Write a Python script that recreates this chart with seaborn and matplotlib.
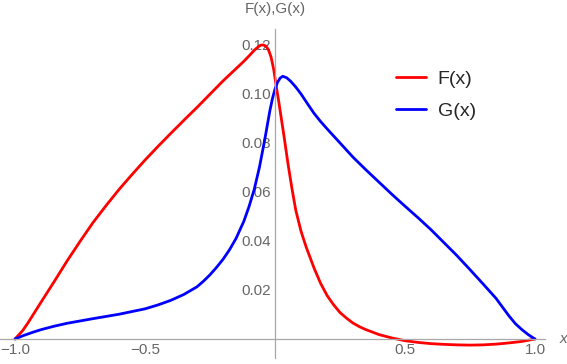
import numpy as np
import pandas as pd
import seaborn as sns
import matplotlib.pyplot as plt
from matplotlib.ticker import FixedLocator

# valores
x_f = [-1.0, -0.97, -0.95, -0.9, -0.85, -0.8, -0.75, -0.7, -0.65, -0.6, -0.55, -0.5,
       -0.45, -0.4, -0.35, -0.3, -0.25, -0.2, -0.15, -0.12, -0.1, -0.08, -0.065,
       -0.055, -0.045, -0.035, -0.025, -0.015, -0.005, 0.005, 0.015, 0.025, 0.035,
       0.05, 0.065, 0.08, 0.1, 0.12, 0.15, 0.175, 0.2, 0.225, 0.25, 0.275, 0.3,
       0.325, 0.35, 0.4, 0.45, 0.5, 0.55, 0.6, 0.65, 0.7, 0.75, 0.8, 0.85, 0.9,
       0.95, 1.0]
f_vals = [0.0, 0.0035, 0.0066, 0.0150, 0.0233, 0.0318, 0.0398, 0.0475, 0.0544,
          0.0610, 0.0671, 0.0730, 0.0786, 0.0840, 0.0893, 0.0945, 0.0999, 0.1053,
          0.1103, 0.1133, 0.1155, 0.1178, 0.1192, 0.1199, 0.1200, 0.1195, 0.1180,
          0.1150, 0.1100, 0.1030, 0.0965, 0.0895, 0.0825, 0.0715, 0.0615, 0.0525,
          0.0440, 0.0375, 0.0290, 0.0228, 0.0178, 0.0140, 0.0108, 0.0085, 0.0065,
          0.0050, 0.0038, 0.0018, 0.0004, -0.0007, -0.0014, -0.0019, -0.0022,
          -0.0024, -0.0025, -0.0024, -0.0021, -0.0016, -0.0010, 0.0]

x_g = [-1.0, -0.97, -0.93, -0.9, -0.85, -0.8, -0.7, -0.6, -0.5, -0.45, -0.4, -0.35,
       -0.3, -0.275, -0.25, -0.225, -0.2, -0.175, -0.15, -0.12, -0.1, -0.08, -0.06,
       -0.05, -0.04, -0.03, -0.02, -0.01, 0.0, 0.01, 0.02, 0.03, 0.045, 0.06, 0.08,
       0.1, 0.125, 0.15, 0.175, 0.2, 0.25, 0.3, 0.35, 0.4, 0.45, 0.5, 0.55, 0.6,
       0.65, 0.7, 0.75, 0.8, 0.85, 0.875, 0.9, 0.925, 0.95, 0.975, 1.0]
g_vals = [0.0, 0.0013, 0.0028, 0.0038, 0.0052, 0.0064, 0.0083, 0.0101, 0.0123,
          0.0139, 0.0158, 0.0182, 0.0213, 0.0236, 0.0262, 0.0292, 0.0325, 0.0364,
          0.0410, 0.0480, 0.0540, 0.0610, 0.0700, 0.0755, 0.0810, 0.0870, 0.0930,
          0.0980, 0.1020, 0.1048, 0.1065, 0.1072, 0.1066, 0.1052, 0.1028, 0.1000,
          0.0960, 0.0921, 0.0888, 0.0858, 0.0800, 0.0742, 0.0690, 0.0640, 0.0590,
          0.0542, 0.0495, 0.0446, 0.0393, 0.0340, 0.0283, 0.0225, 0.0166, 0.0130,
          0.0094, 0.0062, 0.0038, 0.0017, 0.0]

df = pd.concat([
    pd.DataFrame({'x': x_f, 'y': f_vals, 'curva': 'F(x)'}),
    pd.DataFrame({'x': x_g, 'y': g_vals, 'curva': 'G(x)'}),
])

sns.set_style('white')
plt.rcParams['font.family'] = ['Liberation Sans', 'DejaVu Sans']

fig = plt.figure(figsize=(5.67, 3.64), dpi=100)
ax = fig.add_axes([0, 6 / 364, 545 / 567, 329 / 364])

sns.lineplot(data=df, x='x', y='y', hue='curva', sort=False,
             palette={'F(x)': '#ff0000', 'G(x)': '#0000ff'},
             linewidth=2.0, solid_joinstyle='round', ax=ax, legend=True)

ax.set_xlim(-1.0577, 1.0385)
ax.set_ylim(-0.00776, 0.1265)

gray = '#a8a8a8'
for s in ['top', 'right']:
    ax.spines[s].set_visible(False)
for s in ['left', 'bottom']:
    ax.spines[s].set_position('zero')
    ax.spines[s].set_color(gray)
    ax.spines[s].set_linewidth(0.9)

ax.xaxis.set_major_locator(FixedLocator([-1.0, -0.5, 0.5, 1.0]))
ax.set_xticklabels(['\u22121.0', '\u22120.5', '0.5', '1.0'])
ax.xaxis.set_minor_locator(FixedLocator([v / 10 for v in range(-9, 10) if v % 5 != 0]))
ax.yaxis.set_major_locator(FixedLocator([0.02, 0.04, 0.06, 0.08, 0.10, 0.12]))
ax.set_yticklabels(['0.02', '0.04', '0.06', '0.08', '0.10', '0.12'])
ax.yaxis.set_minor_locator(FixedLocator([v * 0.005 for v in range(1, 26) if v % 4 != 0]))

ax.tick_params(which='both', direction='in', color=gray, width=0.8,
               labelsize=11, labelcolor='#666666', pad=3)
ax.tick_params(which='major', length=4.6)
ax.tick_params(which='minor', length=2.6)

ax.set_xlabel('')
ax.set_ylabel('')
ax.text(1.108, 0.0, 'x', style='italic', color='#666666', fontsize=11,
        ha='center', va='center', clip_on=False)
ax.text(0.0, 0.1347, 'F(x),G(x)', color='#666666', fontsize=11,
        ha='center', va='center', clip_on=False)

leg = ax.legend(loc='upper left', bbox_to_anchor=(396 / 545, 1 - 41 / 329),
                frameon=False, fontsize=14, handlelength=1.55, handletextpad=0.6,
                labelspacing=0.75, borderpad=0, borderaxespad=0)
for line in leg.get_lines():
    line.set_linewidth(2.0)

fig.savefig('out.png', dpi=100)
